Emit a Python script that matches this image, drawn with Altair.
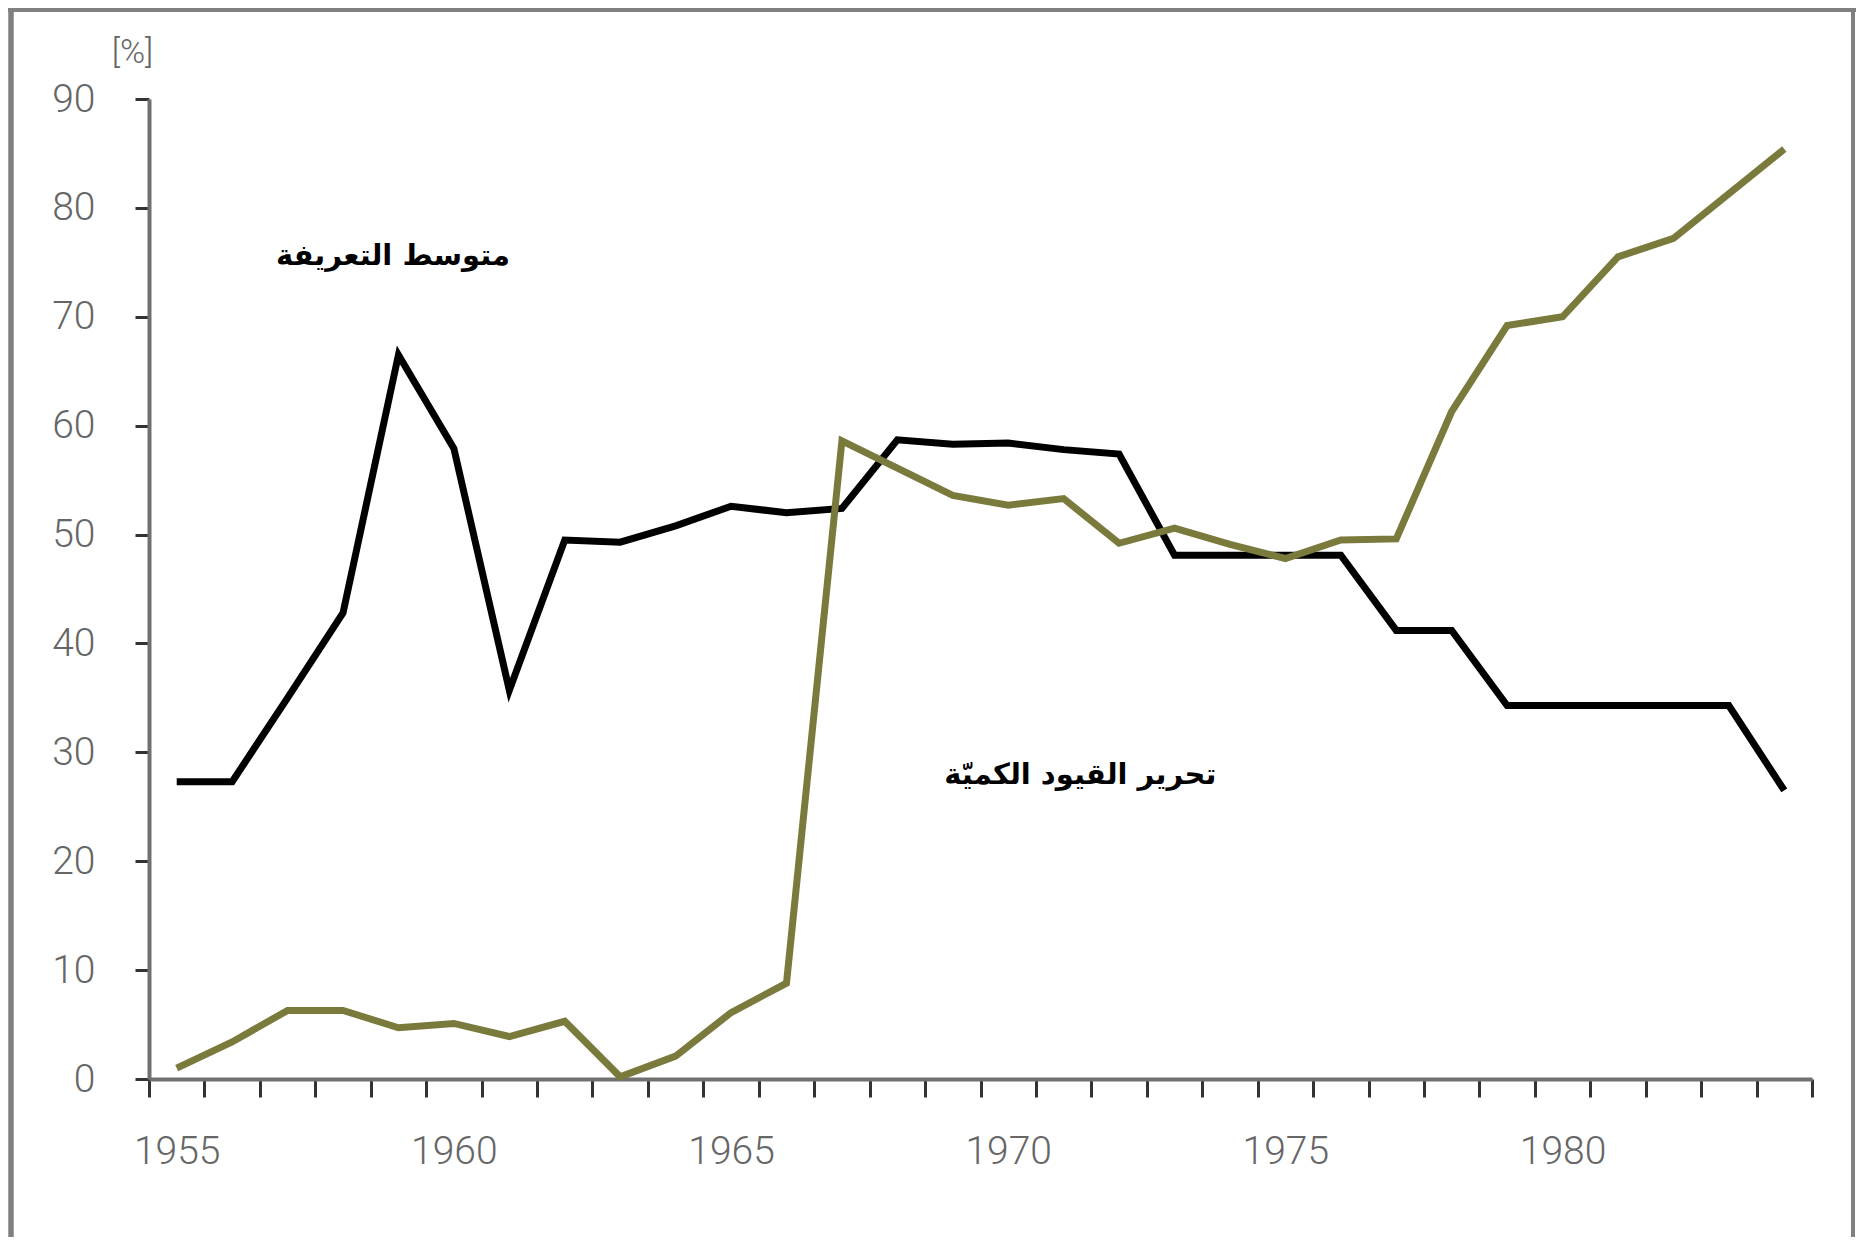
import altair as alt
import pandas as pd

years = list(range(1955, 1985))
tariff = [27.3, 27.3, 35.0, 42.8, 66.5, 57.9, 35.7, 49.5, 49.3, 50.8,
          52.6, 52.0, 52.4, 58.7, 58.3, 58.4, 57.8, 57.4, 48.1, 48.1,
          48.1, 48.1, 41.2, 41.2, 34.3, 34.3, 34.3, 34.3, 34.3, 26.5]
liberal = [1.0, 3.4, 6.3, 6.3, 4.7, 5.1, 3.9, 5.3, 0.2, 2.1,
           6.1, 8.8, 58.6, 56.1, 53.6, 52.7, 53.3, 49.2, 50.6, 49.1,
           47.8, 49.5, 49.6, 61.3, 69.2, 70.0, 75.5, 77.2, 81.3, 85.4]
series_names = ["متوسط التعريفة", "تحرير القيود الكميّة"]
label_years = [1958.9, 1971.3]
label_values = [75.6, 27.9]
y_ticks = list(range(0, 100, 10))
x_ticks = [1954.5 + k for k in range(31)]

df = pd.DataFrame({
    "year": years * 2,
    "value": tariff + liberal,
    "series": [series_names[0]] * len(years) + [series_names[1]] * len(years),
})
ann = pd.DataFrame({"year": label_years, "value": label_values, "text": series_names})

W, H = 1663, 980
PL, PT, PR, PB = 141, 91, 44, 158
GRAY = "#666666"
LABEL_FONT = "Roboto"

x_scale = alt.Scale(domain=[1954.5, 1984.5], nice=False, zero=False)
y_scale = alt.Scale(domain=[0, 90], nice=False)

x_axis = alt.Axis(
    values=x_ticks, title=None, grid=False,
    labelExpr="((datum.value + 0.5) % 5 == 0 && datum.value < 1984) ? format(datum.value + 0.5, 'd') : ''",
    labelOffset=27.7, labelOverlap=False, labelBound=False, labelFlush=False,
    labelFont=LABEL_FONT, labelFontWeight=300, labelFontSize=39, labelColor=GRAY, labelPadding=35,
    tickSize=18, tickWidth=3, tickColor="#333333",
    domainColor="#707070", domainWidth=4,
)
y_axis = alt.Axis(
    values=y_ticks, title="[%]", grid=False, format="d",
    labelFont=LABEL_FONT, labelFontWeight=300, labelFontSize=39, labelColor=GRAY, labelPadding=40,
    tickSize=14, tickWidth=3, tickColor="#333333",
    domainColor="#707070", domainWidth=4,
    titleAngle=0, titleX=-17, titleY=-47, titleAlign="center", titleBaseline="middle",
    titleFont=LABEL_FONT, titleFontSize=34, titleFontWeight=300, titleColor=GRAY,
)

lines = alt.Chart(df).mark_line(strokeWidth=7, strokeJoin="miter").encode(
    x=alt.X("year:Q", scale=x_scale, axis=x_axis),
    y=alt.Y("value:Q", scale=y_scale, axis=y_axis),
    color=alt.Color("series:N", scale=alt.Scale(domain=series_names, range=["#000000", "#7a7a3c"]), legend=None),
)

texts = alt.Chart(ann).mark_text(
    font="DejaVu Sans", fontSize=29, fontWeight="bold", color="#000000",
    align="center", baseline="middle",
).encode(
    x=alt.X("year:Q", scale=x_scale),
    y=alt.Y("value:Q", scale=y_scale),
    text="text:N",
)

FRAME = "#808080"
frame_left = alt.Chart(ann).mark_rule(color=FRAME, strokeWidth=5).encode(
    x=alt.value(-138), y=alt.value(-PT), y2=alt.value(H + PB))
frame_top = alt.Chart(ann).mark_rule(color=FRAME, strokeWidth=4).encode(
    y=alt.value(-89), x=alt.value(-PL), x2=alt.value(W + PR))
frame_right = alt.Chart(ann).mark_rule(color=FRAME, strokeWidth=4).encode(
    x=alt.value(W + PR - 3), y=alt.value(-PT), y2=alt.value(H + PB))

chart = alt.layer(lines, texts, frame_left, frame_top, frame_right).properties(
    width=W, height=H,
    autosize=alt.AutoSizeParams(type="none"),
    padding={"left": PL, "top": PT, "right": PR, "bottom": PB},
    background="#ffffff",
).configure_view(stroke=None)

chart.save("out.html", embed_options={"renderer": "svg", "actions": False})
